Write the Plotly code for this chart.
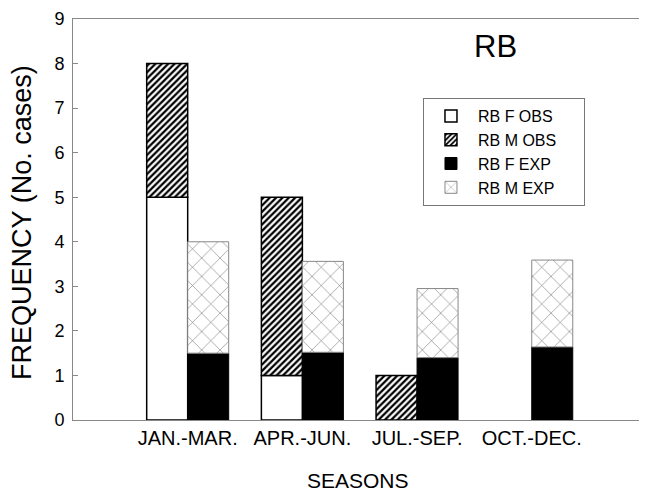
import plotly.graph_objects as go

seasons = ["JAN.-MAR.", "APR.-JUN.", "JUL.-SEP.", "OCT.-DEC."]
rb_f_obs = [5, 1, 0, 0]
rb_m_obs = [3, 4, 1, 0]
rb_f_exp = [1.5, 1.52, 1.4, 1.64]
rb_m_exp = [2.5, 2.04, 1.55, 1.95]
y_ticks = list(range(0, 10))

FONT = "Liberation Sans, Arial, sans-serif"
PAD = "\u00a0" * 5


def nz(vals):
    return [v if v else None for v in vals]


fig = go.Figure()
fig.add_trace(go.Bar(
    x=seasons, y=nz(rb_f_obs), name="RB F OBS" + PAD, offsetgroup="obs",
    marker=dict(color="white", line=dict(color="black", width=1.5)),
))
fig.add_trace(go.Bar(
    x=seasons, y=nz(rb_m_obs), base=rb_f_obs, name="RB M OBS" + PAD, offsetgroup="obs",
    marker=dict(color="white", line=dict(color="black", width=1.5),
                pattern=dict(shape="/", size=4.5, solidity=0.5,
                             fgcolor="black", bgcolor="white", fillmode="replace")),
))
fig.add_trace(go.Bar(
    x=seasons, y=nz(rb_f_exp), name="RB F EXP" + PAD, offsetgroup="exp",
    marker=dict(color="black", line=dict(color="black", width=1)),
))
fig.add_trace(go.Bar(
    x=seasons, y=nz(rb_m_exp), base=rb_f_exp, name="RB M EXP" + PAD, offsetgroup="exp",
    marker=dict(color="white", line=dict(color="#888888", width=1),
                pattern=dict(shape="x", size=13, solidity=0.08,
                             fgcolor="#666666", bgcolor="white", fillmode="replace")),
))

fig.update_layout(
    width=639, height=483,
    margin=dict(l=65, r=4, t=11, b=71, autoexpand=False),
    paper_bgcolor="white", plot_bgcolor="white",
    barmode="group", bargap=0.285, bargroupgap=0,
    font=dict(family=FONT, color="black"),
    showlegend=True,
    legend=dict(
        x=0.614, y=0.803, xanchor="left", yanchor="top",
        bgcolor="white", bordercolor="#777777", borderwidth=1,
        font=dict(size=16, family=FONT, color="black"),
        traceorder="normal", tracegroupgap=0, itemwidth=44,
    ),
    xaxis=dict(
        range=[-1, 3.97], showgrid=False, zeroline=False, automargin=False,
        showline=True, linecolor="#888888", linewidth=1, mirror=True,
        ticks="", tickfont=dict(size=20, family=FONT, color="black"),
    ),
    yaxis=dict(
        range=[0, 9], tickvals=y_ticks, showgrid=False, zeroline=False, automargin=False,
        showline=True, linecolor="#888888", linewidth=1, mirror=True,
        ticks="inside", ticklen=5, tickcolor="#888888",
        tickfont=dict(size=18, family=FONT, color="black"),
        ticklabelstandoff=4,
    ),
    annotations=[
        dict(text="FREQUENCY (No. cases)", textangle=-90, xref="paper", yref="paper",
             x=-0.0895, y=0.494, xanchor="center", yanchor="middle", showarrow=False,
             font=dict(size=27, family=FONT, color="black")),
        dict(text="RB", xref="paper", yref="paper", x=0.742, y=0.931,
             xanchor="center", yanchor="middle", showarrow=False,
             font=dict(size=31, family=FONT, color="black")),
        dict(text="SEASONS", xref="paper", yref="paper", x=0.5, y=-0.151,
             xanchor="center", yanchor="middle", showarrow=False,
             font=dict(size=21, family=FONT, color="black")),
    ],
)

fig.write_html("out.html")
